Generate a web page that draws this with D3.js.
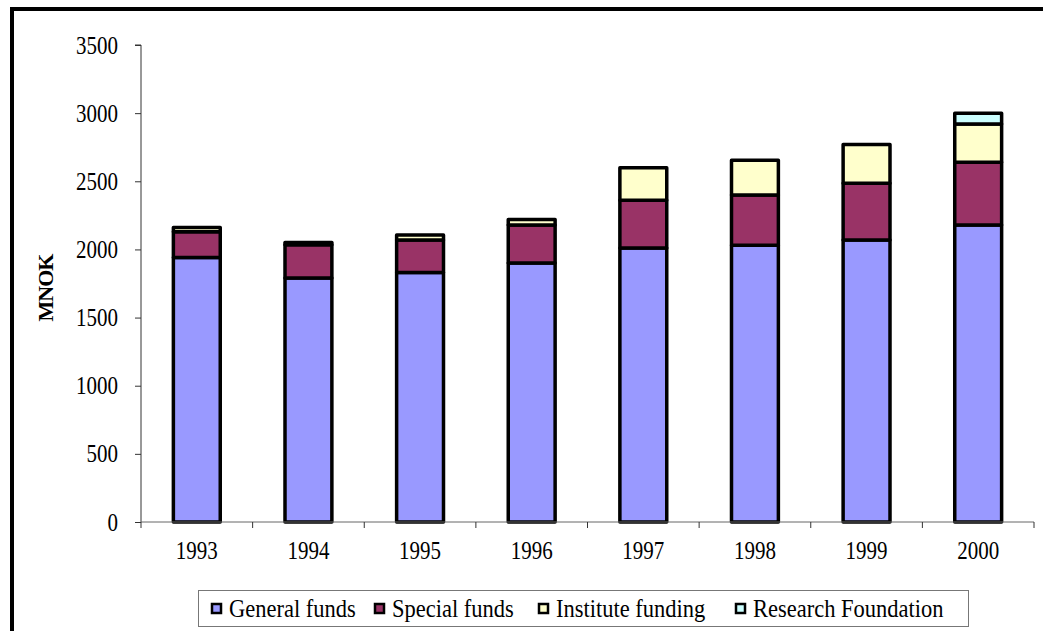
<!DOCTYPE html>
<html>
<head>
<meta charset="utf-8">
<script src="https://cdn.jsdelivr.net/npm/d3@7"></script>
<style>
  html, body { margin: 0; padding: 0; background: #fff; }
  svg { display: block; }
  text { font-family: "Liberation Serif", "Times New Roman", serif; fill: #000; }
</style>
</head>
<body>
<svg id="chart" width="1043" height="631"></svg>
<script>
// Funding by source, MNOK
const years = ["1993", "1994", "1995", "1996", "1997", "1998", "1999", "2000"];
const generalFunds = [1940, 1790, 1830, 1900, 2010, 2030, 2070, 2180];
const specialFunds = [190, 245, 240, 280, 350, 370, 415, 460];
const instituteFunding = [30, 15, 35, 40, 240, 255, 285, 280];
const researchFoundation = [0, 0, 0, 0, 0, 0, 0, 80];
const seriesNames = ["General funds", "Special funds", "Institute funding", "Research Foundation"];
const seriesColors = ["#9999FF", "#993366", "#FFFFCC", "#CCFFFF"];
const yTicks = [0, 500, 1000, 1500, 2000, 2500, 3000, 3500];
const yTitle = "MNOK";

const svg = d3.select("#chart");
const W = 1043, H = 631;
const plot = { left: 141, right: 1034, top: 45, bottom: 522 };
// narrow, tall serif lettering
const tickFont = 25, tickSX = 0.84;
const legendFont = 25, legendSX = 0.9;

// frame lines along the top and left edge
svg.append("line").attr("x1", 12).attr("x2", W).attr("y1", 9).attr("y2", 9)
  .attr("stroke", "#000").attr("stroke-width", 4);
svg.append("line").attr("x1", 12).attr("x2", 12).attr("y1", 7).attr("y2", H)
  .attr("stroke", "#000").attr("stroke-width", 4);

const x = d3.scaleBand().domain(years).range([plot.left, plot.right]).paddingInner(0.58).paddingOuter(0.29);
const xOuter = d3.scaleBand().domain(years).range([plot.left, plot.right]);
const y = d3.scaleLinear().domain([0, 3500]).range([plot.bottom, plot.top]);

const table = years.map((yr, i) => ({
  year: yr,
  "General funds": generalFunds[i],
  "Special funds": specialFunds[i],
  "Institute funding": instituteFunding[i],
  "Research Foundation": researchFoundation[i]
}));
const stacked = d3.stack().keys(seriesNames)(table);

// bars
const layers = svg.append("g").selectAll("g").data(stacked).join("g")
  .attr("fill", (d, i) => seriesColors[i]);
layers.selectAll("rect").data(d => d.filter(p => p[1] - p[0] > 0)).join("rect")
  .attr("x", d => x(d.data.year))
  .attr("width", x.bandwidth())
  .attr("y", d => y(d[1]))
  .attr("height", d => y(d[0]) - y(d[1]))
  .attr("stroke", "#000")
  .attr("stroke-width", 3.5)
  .attr("stroke-linejoin", "round");

// y axis
const yAxis = d3.axisLeft(y).tickValues(yTicks).tickSize(6).tickPadding(17).tickFormat(d3.format("d"));
const gy = svg.append("g").attr("transform", `translate(${plot.left},0)`).call(yAxis);
gy.select(".domain").attr("stroke", "#333").attr("d", `M-6,${plot.top}H0V${plot.bottom}`);
gy.selectAll(".tick line").attr("stroke", "#333");
gy.selectAll(".tick text")
  .attr("font-size", tickFont).attr("fill", "#000")
  .attr("x", -23 / tickSX)
  .attr("transform", `scale(${tickSX},1)`);

// x axis with ticks at category boundaries
const gx = svg.append("g").attr("transform", `translate(0,${plot.bottom})`);
gx.append("line").attr("x1", plot.left).attr("x2", plot.right).attr("y1", 0).attr("y2", 0).attr("stroke", "#666");
gx.selectAll("line.tk").data(years.concat(["end"])).join("line").attr("class", "tk")
  .attr("x1", (d, i) => plot.left + i * xOuter.step())
  .attr("x2", (d, i) => plot.left + i * xOuter.step())
  .attr("y1", 0).attr("y2", 6).attr("stroke", "#333");
gx.selectAll("text").data(years).join("text")
  .attr("transform", d => `translate(${xOuter(d) + xOuter.bandwidth() / 2},37) scale(${tickSX},1)`)
  .attr("text-anchor", "middle")
  .attr("font-size", tickFont)
  .text(d => d);

// y title
svg.append("text")
  .attr("transform", "translate(53,288) rotate(-90)")
  .attr("text-anchor", "middle")
  .attr("font-size", 22)
  .attr("font-weight", "bold")
  .attr("letter-spacing", -1)
  .text(yTitle);

// legend
const lg = svg.append("g");
lg.append("rect").attr("x", 198.5).attr("y", 590.5).attr("width", 770).attr("height", 36)
  .attr("fill", "#fff").attr("stroke", "#777").attr("stroke-width", 1);
const legendX = [212, 375, 539, 736];
const items = lg.selectAll("g.item").data(seriesNames).join("g").attr("class", "item")
  .attr("transform", (d, i) => `translate(${legendX[i]},608)`);
items.append("rect").attr("x", 0).attr("y", -4).attr("width", 9).attr("height", 9)
  .attr("fill", (d, i) => seriesColors[i]).attr("stroke", "#000").attr("stroke-width", 2.5);
items.append("text")
  .attr("transform", `translate(17,8.5) scale(${legendSX},1)`)
  .attr("font-size", legendFont)
  .text(d => d);
</script>
</body>
</html>
